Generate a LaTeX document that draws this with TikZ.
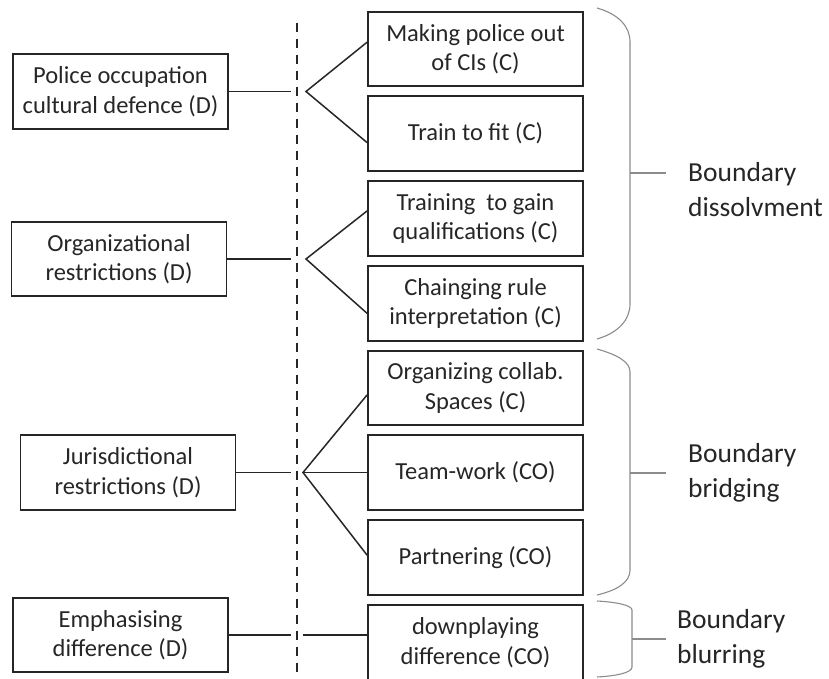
\documentclass[tikz,border=0pt]{standalone}
\usepackage{fontspec}
\setmainfont{Carlito}
\usetikzlibrary{calc}
\begin{document}
\begin{tikzpicture}[x=1pt,y=-1pt,
  box/.style={draw=black!85, line width=1.7pt, minimum width=215pt, minimum height=74.5pt,
    inner sep=0pt, align=center, font=\fontsize{24.5}{29.5}\selectfont, text=black!85},
  conn/.style={draw=black!85, line width=1.5pt},
  brc/.style={draw=black!45, line width=1.1pt},
  lbl/.style={anchor=west, align=left, inner sep=0pt, font=\fontsize{27.5}{35}\selectfont, text=black!85}]
\useasboundingbox (0,0) rectangle (829,679);
% right boxes
\node[box] (R1) at (475.5,49) {Making police out\\of CIs (C)};
\node[box] (R2) at (475.5,133.5) {Train to fit (C)};
\node[box] (R3) at (475.5,218.5) {Training\ \ to gain\\qualifications (C)};
\node[box] (R4) at (475.5,303.5) {Chainging rule\\interpretation (C)};
\node[box] (R5) at (475.5,388) {Organizing collab.\\Spaces (C)};
\node[box] (R6) at (475.5,472.5) {Team-work (CO)};
\node[box] (R7) at (475.5,557.5) {Partnering (CO)};
\node[box] (R8) at (475.5,642.5) {downplaying\\difference (CO)};
% left boxes
\node[box] (L1) at (120.5,91.5) {Police occupation\\cultural defence (D)};
\node[box] (L2) at (119,259) {Organizational\\restrictions (D)};
\node[box] (L3) at (128,472.5) {Jurisdictional\\restrictions (D)};
\node[box] (L4) at (120.5,635) {Emphasising\\difference (D)};
% dashed divider
\coordinate (dtop) at (297,23);
\coordinate (dbot) at (297,679);
\draw[black!85, line width=1.4pt, dash pattern=on 9pt off 7pt] (dtop) -- (dbot);
% helper x positions
\coordinate (xg) at (291,0);
\coordinate (xa) at (306,0);
\coordinate (xb) at (303,0);
% connectors
\coordinate (a1) at (L1.east -| xa);
\draw[conn] (L1.east) -- (L1.east -| xg);
\draw[conn] ($(R1.north west)!0.41!(R1.south west)$) -- (a1) -- ($(R2.north west)!0.62!(R2.south west)$);
\coordinate (a2) at (L2.east -| xa);
\draw[conn] (L2.east) -- (L2.east -| xg);
\draw[conn] ($(R3.north west)!0.40!(R3.south west)$) -- (a2) -- ($(R4.north west)!0.63!(R4.south west)$);
\coordinate (a3) at (L3.east -| xb);
\draw[conn] (L3.east) -- (L3.east -| xg);
\draw[conn] ($(R5.north west)!0.59!(R5.south west)$) -- (a3) -- ($(R7.north west)!0.47!(R7.south west)$);
\draw[conn] (a3) -- (R6.west);
\coordinate (a4) at (L4.east -| xb);
\draw[conn] (L4.east) -- (L4.east -| xg);
\draw[conn] (a4) -- (a4 -| R8.west);
% braces
\coordinate (b1t) at (597,8);
\coordinate (b1b) at (597,339);
\coordinate (b1m) at (630,173);
\coordinate (b1e) at (666,173);
\draw[brc] (b1t) .. controls (618,14) and (630,26) .. (630,42) -- (630,304) .. controls (630,320) and (618,333) .. (b1b);
\draw[brc] (b1m) -- (b1e);
\coordinate (b2t) at (597,349);
\coordinate (b2b) at (597,595);
\coordinate (b2m) at (630,473);
\coordinate (b2e) at (666,473);
\draw[brc] (b2t) .. controls (618,355) and (630,362) .. (630,372) -- (630,570) .. controls (630,582) and (618,590) .. (b2b);
\draw[brc] (b2m) -- (b2e);
\coordinate (b3t) at (597,601);
\coordinate (b3b) at (597,677);
\coordinate (b3m) at (632,639);
\coordinate (b3e) at (666,639);
\draw[brc] (b3t) .. controls (615,602) and (632,605) .. (632,610) -- (632,667) .. controls (632,673) and (615,676) .. (b3b);
\draw[brc] (b3m) -- (b3e);
% labels
\node[lbl] (T1) at (688,190) {Boundary\\dissolvment};
\node[lbl] (T2) at (688,473) {Boundary\\bridging};
\node[lbl] (T3) at (677,639) {Boundary\\blurring};
\end{tikzpicture}
\end{document}
